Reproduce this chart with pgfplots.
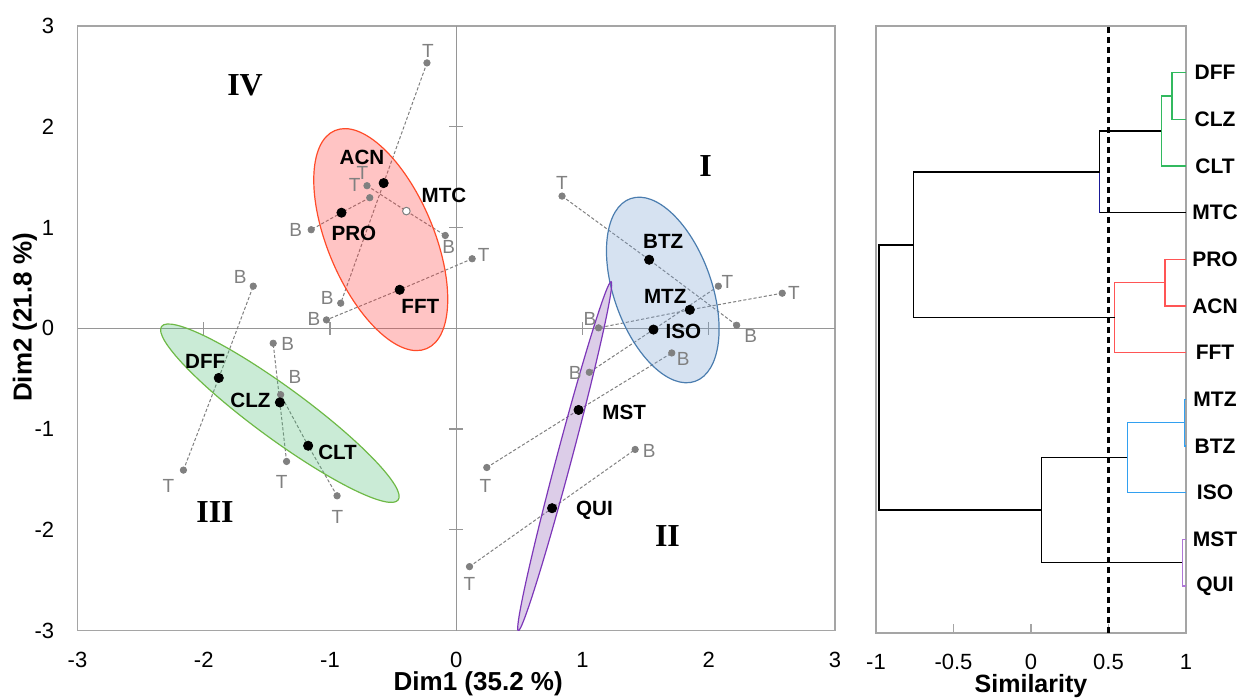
\documentclass[border=0pt]{standalone}
\usepackage{fontspec}
\setmainfont{Liberation Sans}
\newfontfamily\romanfont{Liberation Serif}
\usepackage{pgfplots}
\pgfplotsset{compat=1.18}

\definecolor{boxgray}{RGB}{165,165,165}
\definecolor{zerogray}{RGB}{150,150,150}
\definecolor{ptgray}{RGB}{128,128,128}
\definecolor{redline}{RGB}{255,75,40}
\definecolor{redfill}{RGB}{255,60,60}
\definecolor{greenline}{RGB}{110,185,70}
\definecolor{greenfill}{RGB}{80,190,120}
\definecolor{blueline}{RGB}{75,125,175}
\definecolor{bluefill}{RGB}{120,160,210}
\definecolor{purpleline}{RGB}{125,55,185}
\definecolor{purplefill}{RGB}{140,90,180}
\definecolor{dgreen}{RGB}{50,185,95}
\definecolor{dred}{RGB}{255,85,85}
\definecolor{dblue}{RGB}{50,160,240}
\definecolor{dnavy}{RGB}{25,25,150}
\definecolor{dpurple}{RGB}{175,120,215}

\tikzset{
  tbline/.style={ptgray, line width=0.5pt, dash pattern=on 1.6pt off 1pt},
  tbmark/.style={only marks, mark=*, mark size=1.6pt, mark options={fill=ptgray, draw=ptgray}},
  tblabel/.style={font=\fontsize{9.5}{10}\selectfont, text=ptgray, inner sep=0pt},
  cllabel/.style={font=\bfseries\fontsize{10.3}{11}\selectfont, text=black, inner sep=0pt},
  quad/.style={font=\romanfont\bfseries\fontsize{16}{18}\selectfont, inner sep=0pt},
  dend/.style={line width=0.75pt, no marks},
  zl/.style={zerogray, line width=0.6pt},
}
% T/B label and cluster label helpers: x, y, xshift, yshift, text
\newcommand{\tb}[5]{\node[tblabel, xshift=#3pt, yshift=#4pt] at (axis cs:#1,#2) {#5};}
\newcommand{\cl}[5]{\node[cllabel, xshift=#3pt, yshift=#4pt] at (axis cs:#1,#2) {#5};}

\begin{document}
\begin{tikzpicture}[x=1pt,y=1pt]
\useasboundingbox (0,0) rectangle (621,349);

% ---------------- PCA biplot ----------------
\begin{axis}[
  at={(38.75pt,33.75pt)}, anchor=south west,
  scale only axis, width=378.75pt, height=302.25pt,
  xmin=-3, xmax=3, ymin=-3, ymax=3,
  xtick={-3,-2,-1,0,1,2,3}, xticklabels={-3,-2,-1,0,1,2,3},
  ytick={-3,-2,-1,0,1,2,3}, yticklabels={-3,-2,-1,0,1,2,3},
  xtick pos=left, ytick pos=left,
  major tick length=0pt,
  axis line style={boxgray, line width=0.9pt},
  tick label style={font=\fontsize{11}{12}\selectfont, inner sep=0pt},
  xticklabel shift=10.5pt, yticklabel shift=11.5pt,
  xlabel={Dim1 (35.2 \%)}, ylabel={Dim2 (21.8 \%)},
  xlabel style={font=\bfseries\fontsize{13}{14}\selectfont, at={(axis description cs:0.529,-0.0885)}, anchor=center},
  ylabel style={font=\bfseries\fontsize{13}{14}\selectfont, at={(axis description cs:-0.0693,0.518)}, anchor=center, rotate=0},
]
% zero lines with crossing ticks
\draw[zl] (axis cs:-3,0) -- (axis cs:3,0);
\draw[zl] (axis cs:0,-3) -- (axis cs:0,3);
\draw[zl] (axis cs:-2,0) ++(0pt,-3.3pt) -- ++(0pt,6.6pt);
\draw[zl] (axis cs:-1,0) ++(0pt,-3.3pt) -- ++(0pt,6.6pt);
\draw[zl] (axis cs:1,0) ++(0pt,-3.3pt) -- ++(0pt,6.6pt);
\draw[zl] (axis cs:2,0) ++(0pt,-3.3pt) -- ++(0pt,6.6pt);
\draw[zl] (axis cs:0,-2) ++(-3.5pt,0pt) -- ++(7pt,0pt);
\draw[zl] (axis cs:0,-1) ++(-3.5pt,0pt) -- ++(7pt,0pt);
\draw[zl] (axis cs:0,1) ++(-3.5pt,0pt) -- ++(7pt,0pt);
\draw[zl] (axis cs:0,2) ++(-3.5pt,0pt) -- ++(7pt,0pt);

% T - centroid - B links
\addplot[tbline] coordinates {(-0.232,2.634) (-0.575,1.441) (-0.915,0.249)}; % ACN
\addplot[tbline] coordinates {(-0.685,1.296) (-0.909,1.147) (-1.149,0.978)}; % PRO
\addplot[tbline] coordinates {(-0.707,1.415) (-0.395,1.163) (-0.087,0.921)}; % MTC
\addplot[tbline] coordinates {(0.126,0.690) (-0.448,0.382) (-1.028,0.083)};  % FFT
\addplot[tbline] coordinates {(-2.161,-1.408) (-1.881,-0.493) (-1.608,0.418)}; % DFF
\addplot[tbline] coordinates {(-1.344,-1.322) (-1.397,-0.736) (-1.450,-0.149)}; % CLZ
\addplot[tbline] coordinates {(-0.944,-1.663) (-1.173,-1.166) (-1.391,-0.659)}; % CLT
\addplot[tbline] coordinates {(0.838,1.312) (1.528,0.680) (2.221,0.030)};  % BTZ
\addplot[tbline] coordinates {(2.582,0.348) (1.850,0.183) (1.127,0.004)};  % MTZ
\addplot[tbline] coordinates {(2.076,0.418) (1.562,-0.013) (1.054,-0.437)}; % ISO
\addplot[tbline] coordinates {(0.242,-1.382) (0.969,-0.811) (1.707,-0.245)}; % MST
\addplot[tbline] coordinates {(0.105,-2.366) (0.759,-1.786) (1.417,-1.203)}; % QUI

% T and B positions
\addplot[tbmark] coordinates {
  (-0.232,2.634) (-0.915,0.249) (-0.685,1.296) (-1.149,0.978)
  (-0.707,1.415) (-0.087,0.921) (0.126,0.690) (-1.028,0.083)
  (-2.161,-1.408) (-1.608,0.418) (-1.344,-1.322) (-1.450,-0.149)
  (-0.944,-1.663) (-1.391,-0.659) (0.838,1.312) (2.221,0.030)
  (2.582,0.348) (1.127,0.004) (2.076,0.418) (1.054,-0.437)
  (0.242,-1.382) (1.707,-0.245) (0.105,-2.366) (1.417,-1.203)};

% centroids
\addplot[only marks, mark=*, mark size=2.3pt, mark options={fill=black, draw=black}] coordinates {
  (-0.575,1.441) (-0.909,1.147) (-0.448,0.382)
  (-1.881,-0.493) (-1.397,-0.736) (-1.173,-1.166)
  (1.528,0.680) (1.850,0.183) (1.562,-0.013)
  (0.969,-0.811) (0.759,-1.786)};
\addplot[only marks, mark=*, mark size=1.9pt, mark options={fill=white, draw=ptgray, line width=0.5pt}] coordinates {(-0.395,1.163)}; % MTC

% cluster ellipses
\draw[draw=redline, line width=0.6pt, fill=redfill, fill opacity=0.3,
  rotate around={112.8:(axis cs:-0.598,0.880)}]
  (axis cs:-0.598,0.880) ellipse [x radius=59.15pt, y radius=26.5pt];
\draw[draw=greenline, line width=0.6pt, fill=greenfill, fill opacity=0.3,
  rotate around={-36.25:(axis cs:-1.397,-0.843)}]
  (axis cs:-1.397,-0.843) ellipse [x radius=73.35pt, y radius=12.9pt];
\draw[draw=blueline, line width=0.6pt, fill=bluefill, fill opacity=0.3,
  rotate around={109.5:(axis cs:1.636,0.380)}]
  (axis cs:1.636,0.380) ellipse [x radius=48.45pt, y radius=24.45pt];
\draw[draw=purpleline, line width=0.6pt, fill=purplefill, fill opacity=0.3,
  rotate around={75.1:(axis cs:0.859,-1.270)}]
  (axis cs:0.859,-1.270) ellipse [x radius=90.3pt, y radius=3.75pt];

% T / B labels
\tb{-0.232}{2.634}{0.5}{6}{T}    \tb{-0.915}{0.249}{-6.8}{2.5}{B}
\tb{-0.685}{1.296}{-3.7}{12.3}{T} \tb{-1.149}{0.978}{-7.7}{-0.3}{B}
\tb{-0.707}{1.415}{-6.2}{0.2}{T}  \tb{-0.087}{0.921}{1.7}{-5.8}{B}
\tb{0.126}{0.690}{5.8}{1.7}{T}    \tb{-1.028}{0.083}{-6.2}{0.5}{B}
\tb{-2.161}{-1.408}{-7.5}{-7.8}{T} \tb{-1.608}{0.418}{-6.5}{4.8}{B}
\tb{-1.344}{-1.322}{-2.5}{-10.5}{T} \tb{-1.450}{-0.149}{7.2}{-0.3}{B}
\tb{-0.944}{-1.663}{0.2}{-10.5}{T} \tb{-1.391}{-0.659}{7.2}{8.7}{B}
\tb{0.838}{1.312}{0}{6.7}{T}      \tb{2.221}{0.030}{7}{-5.2}{B}
\tb{2.582}{0.348}{5.8}{0}{T}      \tb{1.127}{0.004}{-4.3}{4.5}{B}
\tb{2.076}{0.418}{4.5}{2}{T}      \tb{1.054}{-0.437}{-7}{-0.5}{B}
\tb{0.242}{-1.382}{-0.7}{-9.2}{T} \tb{1.707}{-0.245}{5.7}{-3}{B}
\tb{0.105}{-2.366}{0}{-8.8}{T}    \tb{1.417}{-1.203}{7}{-0.7}{B}

% compound labels
\cl{-0.575}{1.441}{-10.8}{12.7}{ACN}
\cl{-0.395}{1.163}{18.8}{7.8}{MTC}
\cl{-0.909}{1.147}{6.2}{-10.5}{PRO}
\cl{-0.448}{0.382}{10.3}{-8.3}{FFT}
\cl{1.528}{0.680}{7}{9.3}{BTZ}
\cl{1.850}{0.183}{-12.3}{6.8}{MTZ}
\cl{1.562}{-0.013}{15}{-1}{ISO}
\cl{0.969}{-0.811}{22.8}{-1.2}{MST}
\cl{0.759}{-1.786}{21.2}{-1}{QUI}
\cl{-1.881}{-0.493}{-6.8}{8.2}{DFF}
\cl{-1.397}{-0.736}{-14.7}{0.8}{CLZ}
\cl{-1.173}{-1.166}{14.7}{-3.3}{CLT}

% quadrant numerals
\node[quad] at (axis cs:-1.673,2.413) {IV};
\node[quad] at (axis cs:1.976,1.607) {I};
\node[quad] at (axis cs:-1.911,-1.819) {III};
\node[quad] at (axis cs:1.673,-2.061) {II};
\end{axis}

% ---------------- Dendrogram ----------------
\begin{axis}[
  at={(438pt,32.65pt)}, anchor=south west,
  scale only axis, width=155pt, height=303.35pt,
  xmin=-1, xmax=1, ymin=0, ymax=13,
  xtick={-1,-0.5,0,0.5,1}, xticklabels={-1,-0.5,0,0.5,1},
  ytick={1,...,12},
  yticklabels={QUI,MST,ISO,BTZ,MTZ,FFT,ACN,PRO,MTC,CLT,CLZ,DFF},
  xtick pos=left, ytick pos=right, yticklabel pos=right,
  tick align=inside,
  major tick length=4.5pt,
  xtick style={boxgray, line width=0.8pt},
  ytick style={draw=none},
  axis line style={boxgray, line width=0.9pt},
  xticklabel style={font=\fontsize{11}{12}\selectfont, inner sep=0pt},
  xticklabel shift=10.5pt,
  yticklabel style={font=\bfseries\fontsize{10.5}{11}\selectfont, inner sep=0pt, anchor=center, xshift=14.5pt},
  xlabel={Similarity},
  xlabel style={font=\bfseries\fontsize{12.5}{14}\selectfont, at={(axis description cs:0.5,-0.0885)}, anchor=center},
]
% cut-off level
\addplot[black, line width=1.3pt, dash pattern=on 3pt off 2pt, no marks] coordinates {(0.5,0) (0.5,13)};

% green cluster
\addplot[dend, dgreen] coordinates {(1,12) (0.91,12) (0.91,11) (1,11)};
\addplot[dend, dgreen] coordinates {(0.91,11.5) (0.841,11.5) (0.841,10) (1,10)};
% link to MTC
\addplot[dend, black] coordinates {(0.841,10.75) (0.443,10.75) (0.443,9.875)};
\addplot[dend, dnavy] coordinates {(0.443,9.875) (0.443,9)};
\addplot[dend, black] coordinates {(0.443,9) (1,9)};
% red cluster
\addplot[dend, dred] coordinates {(1,8) (0.863,8) (0.863,7) (1,7)};
\addplot[dend, dred] coordinates {(0.863,7.5) (0.54,7.5) (0.54,6) (1,6)};
% upper branch
\addplot[dend, black] coordinates {(0.443,9.875) (-0.757,9.875) (-0.757,6.75) (0.54,6.75)};
% blue cluster
\addplot[dend, dblue] coordinates {(1,5) (0.99,5) (0.99,4) (1,4)};
\addplot[dend, dblue] coordinates {(0.99,4.5) (0.622,4.5) (0.622,3) (1,3)};
% purple cluster
\addplot[dend, dpurple] coordinates {(1,2) (0.977,2) (0.977,1) (1,1)};
% lower branch
\addplot[dend, black] coordinates {(0.622,3.75) (0.067,3.75) (0.067,1.5) (0.977,1.5)};
% root
\addplot[dend, black] coordinates {(-0.757,8.3125) (-0.981,8.3125) (-0.981,2.625) (0.067,2.625)};
\end{axis}
\end{tikzpicture}
\end{document}
